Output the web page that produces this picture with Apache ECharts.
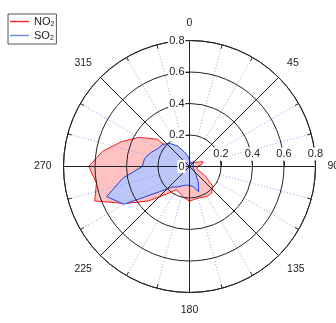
<!DOCTYPE html>
<html>
<head>
<meta charset="utf-8">
<script src="https://cdn.jsdelivr.net/npm/echarts@6/dist/echarts.min.js"></script>
<style>
  html, body { margin: 0; padding: 0; background: #fff; }
  #chart { width: 336px; height: 323px; }
</style>
</head>
<body>
<div id="chart"></div>
<script>
// Wind direction (degrees, clockwise from north)
const directions = [0, 10, 20, 30, 40, 50, 60, 70, 80, 90, 100, 110, 120, 130, 140, 150, 160, 170,
                    180, 190, 200, 210, 220, 230, 240, 250, 260, 270, 280, 290, 300, 310, 320, 330, 340, 350];

// Pollutant levels per direction
const no2 = [0.02, 0.02, 0.03, 0.03, 0.03, 0.04, 0.05, 0.09, 0.08, 0.05, 0.04, 0.05, 0.11, 0.19, 0.22, 0.22, 0.21, 0.21,
             0.22, 0.20, 0.18, 0.17, 0.23, 0.34, 0.47, 0.64, 0.60, 0.64, 0.56, 0.46, 0.37, 0.27, 0.05, 0.03, 0.03, 0.02];
const so2 = [0.04, 0.03, 0.02, 0.03, 0.04, 0.05, 0.03, 0.02, 0.02, 0.02, 0.02, 0.02, 0.03, 0.04, 0.06, 0.11, 0.17, 0.13,
             0.12, 0.12, 0.13, 0.15, 0.17, 0.25, 0.48, 0.56, 0.43, 0.30, 0.29, 0.26, 0.23, 0.22, 0.19, 0.15, 0.10, 0.07];

// Axis tick labels
const angleLabels = ['0', '45', '90', '135', '180', '225', '270', '315'];
const radiusLabels = ['0', '0.2', '0.4', '0.6', '0.8'];
const radiusStep = 0.2;
const angleStep = 45;

const seriesNames = ['NO\u2082', 'SO\u2082'];

const center = [189.5, 166.5];
const R = 126;
const ink = '#222';
const font = 'Liberation Sans, Arial, sans-serif';

// close each outline back to its first direction
function loop(values) {
  const pts = directions.map((a, i) => [values[i], a]);
  pts.push([values[0], 360]);
  return pts;
}

const radiusFormatter = v => {
  const i = Math.round(v / radiusStep);
  return radiusLabels[i] !== undefined ? radiusLabels[i] : '';
};

const chart = echarts.init(document.getElementById('chart'), null, { renderer: 'canvas' });
chart.setOption({
  animation: false,
  legend: {
    orient: 'vertical',
    left: 8,
    top: 14,
    padding: [2, 2, 2, 2],
    itemGap: 2,
    itemWidth: 19,
    itemHeight: 1.5,
    borderColor: '#555',
    borderWidth: 1,
    data: [
      { name: seriesNames[0], icon: 'rect', itemStyle: { color: '#ee3030' } },
      { name: seriesNames[1], icon: 'rect', itemStyle: { color: '#7090ea' } }
    ],
    formatter: name => '{m|' + name.slice(0, 2) + '}{s|2}',
    textStyle: {
      color: ink,
      fontFamily: font,
      fontSize: 11,
      rich: {
        m: { fontSize: 11, fontFamily: font, color: ink },
        s: { fontSize: 7, fontFamily: font, color: ink, padding: [6, 0, 0, 0] }
      }
    }
  },
  polar: [
    { center: center, radius: [0, R] },
    { center: center, radius: [R / 4, R] },
    { center: center, radius: [0, R] }
  ],
  angleAxis: [
    {
      polarIndex: 0,
      type: 'value',
      min: 0,
      max: 360,
      interval: angleStep,
      startAngle: 90,
      clockwise: true,
      z: 6,
      axisLine: { lineStyle: { color: ink, width: 1 } },
      axisTick: { show: true, inside: true, length: 4, lineStyle: { color: ink } },
      minorTick: { show: true, splitNumber: 3, length: 4, lineStyle: { color: ink } },
      axisLabel: {
        margin: 12,
        color: ink,
        fontSize: 10.5,
        fontFamily: font,
        formatter: v => (v < 360 ? angleLabels[Math.round(v / angleStep)] : '')
      },
      splitLine: { show: true, lineStyle: { color: ink, width: 1 } }
    },
    {
      polarIndex: 1,
      type: 'value',
      min: 0,
      max: 360,
      interval: angleStep,
      startAngle: 90,
      clockwise: true,
      z: 5,
      axisLine: { show: false },
      axisTick: { show: false },
      axisLabel: { show: false },
      splitLine: { show: false },
      minorTick: { show: false, splitNumber: 3 },
      minorSplitLine: { show: true, lineStyle: { color: '#9a9af6', width: 1, type: [1, 2] } }
    },
    {
      polarIndex: 2,
      type: 'value',
      min: 0,
      max: 360,
      startAngle: 0,
      show: false
    }
  ],
  radiusAxis: [
    {
      polarIndex: 0,
      type: 'value',
      min: 0,
      max: 0.8,
      interval: radiusStep,
      z: 7,
      axisLine: { show: true, lineStyle: { color: ink, width: 1 } },
      axisTick: { show: true, length: 5, lineStyle: { color: ink } },
      axisLabel: {
        margin: 4,
        color: ink,
        fontSize: 11,
        fontFamily: font,
        backgroundColor: '#fff',
        padding: [1, 1, 1, 1],
        formatter: radiusFormatter
      },
      splitLine: { show: true, lineStyle: { color: ink, width: 1 } }
    },
    {
      polarIndex: 1,
      type: 'value',
      min: 0,
      max: 0.8,
      show: false
    },
    {
      polarIndex: 2,
      type: 'value',
      min: 0,
      max: 0.8,
      interval: radiusStep,
      z: 7,
      axisLine: { show: false },
      axisTick: { show: true, length: 5, lineStyle: { color: ink } },
      axisLabel: {
        margin: 6,
        color: ink,
        fontSize: 11,
        fontFamily: font,
        backgroundColor: '#fff',
        padding: [1, 1, 1, 1],
        showMinLabel: false,
        formatter: radiusFormatter
      },
      splitLine: { show: false }
    }
  ],
  series: [
    {
      name: seriesNames[0],
      type: 'line',
      coordinateSystem: 'polar',
      polarIndex: 0,
      data: loop(no2),
      showSymbol: false,
      symbol: 'none',
      lineStyle: { color: '#ff1a1a', width: 1 },
      itemStyle: { color: '#ee3030' },
      areaStyle: { color: '#ffc2c2', opacity: 1 },
      z: 2
    },
    {
      name: seriesNames[1],
      type: 'line',
      coordinateSystem: 'polar',
      polarIndex: 0,
      data: loop(so2),
      showSymbol: false,
      symbol: 'none',
      lineStyle: { color: '#1f3fe0', width: 1 },
      itemStyle: { color: '#7090ea' },
      areaStyle: { color: '#bcc6f8', opacity: 1 },
      z: 3
    }
  ]
});
</script>
</body>
</html>
